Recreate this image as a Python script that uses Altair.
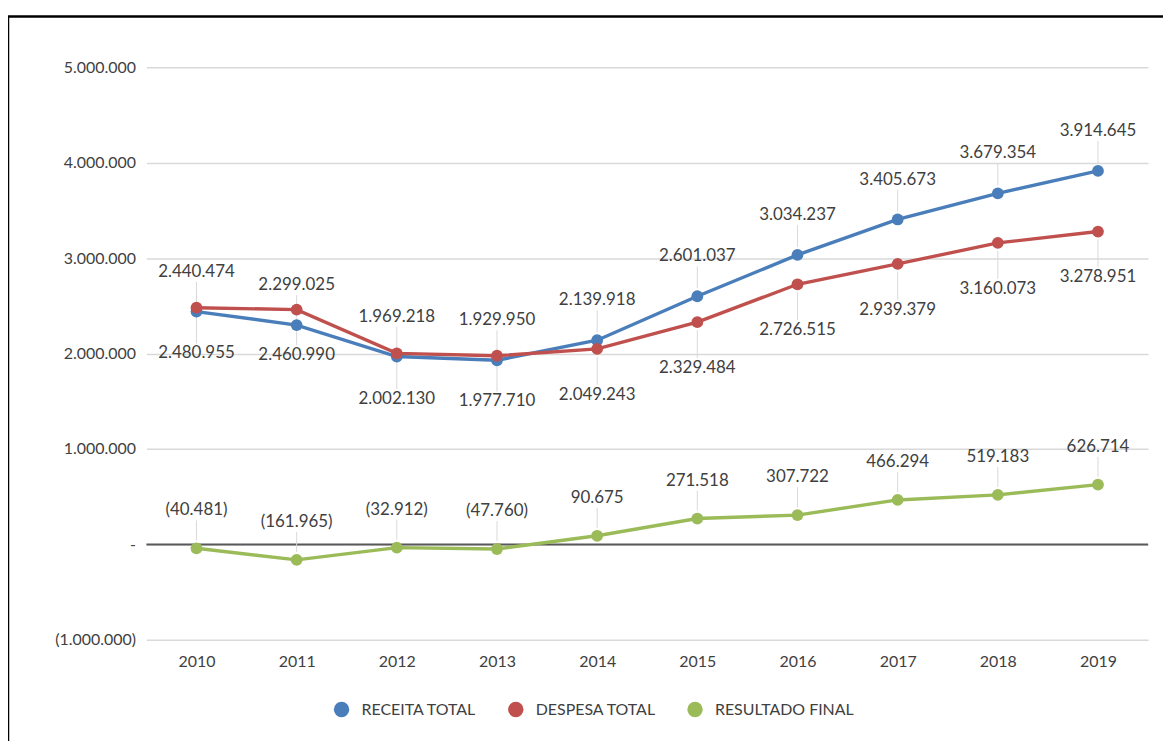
import altair as alt
import pandas as pd

years = ["2010", "2011", "2012", "2013", "2014", "2015", "2016", "2017", "2018", "2019"]
receita = [2440474, 2299025, 1969218, 1929950, 2139918, 2601037, 3034237, 3405673, 3679354, 3914645]
despesa = [2480955, 2460990, 2002130, 1977710, 2049243, 2329484, 2726515, 2939379, 3160073, 3278951]
resultado = [-40481, -161965, -32912, -47760, 90675, 271518, 307722, 466294, 519183, 626714]
series_names = ["RECEITA TOTAL", "DESPESA TOTAL", "RESULTADO FINAL"]
series_colors = ["#4A7EBB", "#C0504D", "#9BBB59"]
y_ticks = [-1000000, 0, 1000000, 2000000, 3000000, 4000000, 5000000]


def fmt(v):
    s = f"{abs(v):,}".replace(",", ".")
    return f"({s})" if v < 0 else s


rows = []
for name, vals in zip(series_names, [receita, despesa, resultado]):
    for yr, v in zip(years, vals):
        rows.append({"ano": yr, "serie": name, "valor": v, "rotulo": fmt(v)})
df = pd.DataFrame(rows)

W, H = 1006, 575
FONT = "Lato"
TXT = "#404040"

x_scale = alt.Scale(type="point", padding=0.5)
x_enc = alt.X("ano:N", scale=x_scale,
              axis=alt.Axis(title=None, labelAngle=0, labelAlign="center", labelBaseline="middle",
                            domain=False, ticks=False, grid=False,
                            labelPadding=22, labelFontSize=16, labelColor=TXT, labelFont=FONT))
y_scale = alt.Scale(domain=[-1000000, 5000000], nice=False, zero=False)
y_enc = alt.Y("valor:Q", scale=y_scale,
              axis=alt.Axis(title=None, values=y_ticks, domain=False, ticks=False, labelPadding=11,
                            gridColor="#d9d9d9", gridWidth=1.5, labelFontSize=16,
                            labelColor=TXT, labelFont=FONT,
                            labelExpr="datum.value == 0 ? '-' : (datum.value < 0 ? '(' + replace(format(-datum.value, ',d'), regexp(',', 'g'), '.') + ')' : replace(format(datum.value, ',d'), regexp(',', 'g'), '.'))"))
color_scale = alt.Scale(domain=series_names, range=series_colors)

base = alt.Chart(df)

frame = alt.Chart(pd.DataFrame({"k": [0]})).mark_rect(
    fill=None, stroke="black", strokeWidth=2.5
).encode(x=alt.value(-139), x2=alt.value(W + 40), y=alt.value(-51), y2=alt.value(H + 140))

zero = alt.Chart(pd.DataFrame({"z": [0]})).mark_rule(color="#595959", strokeWidth=2).encode(
    y=alt.Y("z:Q", scale=y_scale), x=alt.value(0), x2=alt.value(W))

line_layers = []
for name, col in zip(series_names, series_colors):
    line_layers.append(
        base.transform_filter(alt.datum.serie == name).mark_line(strokeWidth=3.4, color=col).encode(
            x=x_enc, y=y_enc))

points = base.mark_point(filled=True, size=140, opacity=1).encode(
    x=x_enc, y=y_enc,
    color=alt.Color("serie:N", scale=color_scale,
                    legend=alt.Legend(orient="none", legendX=188, legendY=637, direction="horizontal",
                                      title=None, symbolType="circle", symbolSize=240,
                                      symbolStrokeWidth=0, labelFontSize=16, labelColor=TXT,
                                      labelFont=FONT, labelOffset=12, columnPadding=31)))

leaders = []
texts = []
label_specs = [
    ("RECEITA TOTAL", -40, -8, -30),
    ("DESPESA TOTAL", 46, 8, 36),
    ("RESULTADO FINAL", -38, -8, -28),
]
for name, dy, o1, o2 in label_specs:
    sub = base.transform_filter(alt.datum.serie == name)
    leaders.append(sub.mark_rule(color="#d9d9d9", strokeWidth=1, yOffset=o1, y2Offset=o2).encode(
        x=alt.X("ano:N", scale=x_scale),
        y=alt.Y("valor:Q", scale=y_scale), y2="valor:Q"))
    texts.append(sub.mark_text(dy=dy, fontSize=17, font=FONT, color=TXT).encode(
        x=alt.X("ano:N", scale=x_scale),
        y=alt.Y("valor:Q", scale=y_scale), text="rotulo:N"))

chart = alt.layer(frame, zero, *leaders, *line_layers, points, *texts).properties(
    width=W, height=H,
    background="white",
    autosize=alt.AutoSizeParams(type="none"),
    padding={"left": 139, "top": 58, "right": 15, "bottom": 100},
).configure_view(stroke=None)

chart.save("out.html", embed_options={"renderer": "svg", "actions": False})
